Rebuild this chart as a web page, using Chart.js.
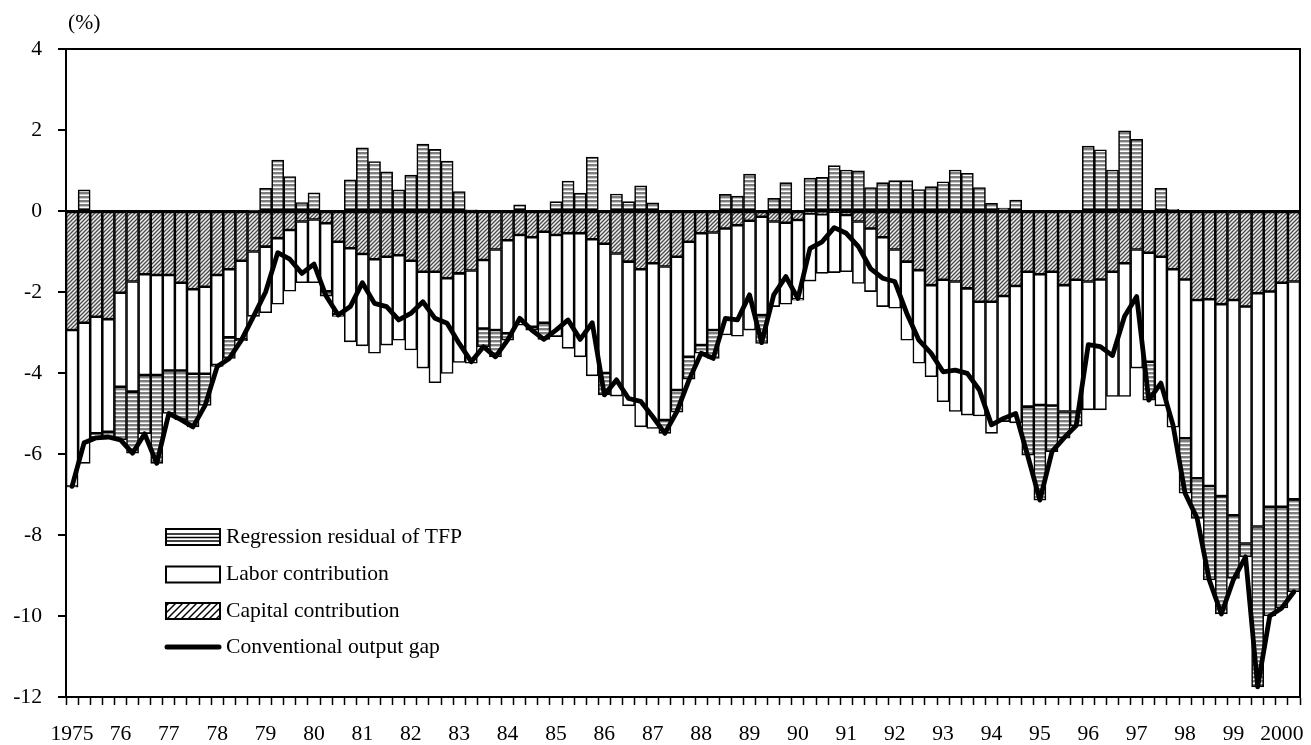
<!DOCTYPE html>
<html>
<head>
<meta charset="utf-8">
<script src="https://cdn.jsdelivr.net/npm/chart.js@4.4.1/dist/chart.umd.min.js"></script>
<style>
html,body{margin:0;padding:0;background:#fff;}
#wrap{width:1311px;height:745px;}
</style>
</head>
<body>
<div id="wrap"><canvas id="c" width="1311" height="745"></canvas></div>
<script>
// ---- categories (quarters 1975Q1 .. 2000Q2) ----
const quarters = [];
for (let y = 1975; y <= 2000; y++) for (let q = 1; q <= 4; q++) quarters.push(y + 'Q' + q);
quarters.length = 102;

// ---- tick labels ----
const yearLabels = ["1975","76","77","78","79","80","81","82","83","84","85","86","87","88","89","90","91","92","93","94","95","96","97","98","99","2000"];
const yTickValues = [4, 2, 0, -2, -4, -6, -8, -10, -12];

// ---- series (%) ----
const capital = [
  -2.94,-2.76,-2.61,-2.67, -2.02,-1.74,-1.56,-1.58,
  -1.58,-1.77,-1.93,-1.87, -1.58,-1.44,-1.23,-1.00,
  -0.88,-0.67,-0.47,-0.26, -0.21,-0.30,-0.76,-0.92,
  -1.06,-1.19,-1.13,-1.09, -1.23,-1.50,-1.50,-1.66,
  -1.54,-1.47,-1.21,-0.95, -0.72,-0.59,-0.65,-0.51,
  -0.59,-0.55,-0.55,-0.70, -0.81,-1.05,-1.25,-1.44,
  -1.29,-1.37,-1.13,-0.76, -0.55,-0.53,-0.43,-0.35,
  -0.24,-0.14,-0.26,-0.29, -0.22,-0.06,-0.08,-0.02,
  -0.10,-0.26,-0.43,-0.65, -0.95,-1.25,-1.46,-1.83,
  -1.70,-1.74,-1.91,-2.24, -2.24,-2.10,-1.85,-1.50,
  -1.56,-1.50,-1.83,-1.70, -1.74,-1.69,-1.50,-1.29,
  -0.95,-1.03,-1.13,-1.44, -1.69,-2.20,-2.18,-2.30,
  -2.20,-2.36,-2.03,-1.99, -1.77,-1.74
];
const labor = [
  -3.86,-3.47,-2.88,-2.78, -2.32,-2.72,-2.49,-2.47,
  -2.36,-2.17,-2.09,-2.15, -2.22,-1.68,-1.94,-1.60,
  -1.63,-1.63,-1.51,-1.51, -1.56,-1.68,-1.79,-2.31,
  -2.27,-2.32,-2.18,-2.10, -2.20,-2.38,-2.74,-2.35,
  -2.20,-2.29,-1.69,-1.99, -2.30,-2.23,-2.21,-2.25,
  -2.51,-2.84,-3.05,-3.37, -3.19,-3.52,-3.56,-3.89,
  -4.08,-3.79,-3.29,-2.84, -2.76,-2.41,-2.63,-2.74,
  -2.70,-2.43,-2.10,-2.01, -1.96,-1.67,-1.46,-1.50,
  -1.40,-1.53,-1.56,-1.71, -1.45,-1.94,-2.30,-2.26,
  -3.01,-3.21,-3.13,-2.82, -3.25,-3.10,-3.38,-3.33,
  -3.23,-3.30,-3.12,-3.25, -3.17,-3.22,-3.08,-3.29,
  -2.93,-2.69,-3.68,-3.90, -3.92,-4.40,-4.61,-4.74,
  -5.31,-5.85,-5.76,-5.31, -5.53,-5.38
];
const tfpResidual = [
  -0.02, 0.52,-0.11,-0.13, -1.31,-1.52,-1.45,-2.18,
  -1.06,-1.21,-1.31,-0.78, -0.04,-0.52,-0.03, 0.02,
   0.56, 1.26, 0.85, 0.21,  0.45,-0.12,-0.05, 0.77,
   1.56, 1.22, 0.97, 0.52,  0.89, 1.65, 1.52, 1.23,
   0.48, 0.03,-0.45,-0.66, -0.17, 0.15,-0.08,-0.41,
   0.23, 0.74, 0.44, 1.33, -0.54, 0.42, 0.23, 0.62,
   0.20,-0.33,-0.55,-0.55, -0.20,-0.70, 0.41, 0.37,
   0.91,-0.70, 0.31, 0.70, -0.02, 0.81, 0.83, 1.12,
   1.01, 0.99, 0.58, 0.70,  0.75, 0.75, 0.53, 0.60,
   0.72, 1.01, 0.93, 0.58,  0.19, 0.07, 0.27,-1.20,
  -2.35,-1.14,-0.66,-0.36,  1.60, 1.51, 1.01, 1.98,
   1.77,-0.95, 0.56, 0.04, -1.36,-0.99,-2.32,-2.91,
  -1.56,-0.33,-3.96,-2.70, -2.50,-2.28
];
const outputGap = [
  -6.80,-5.72,-5.60,-5.58, -5.65,-5.98,-5.50,-6.23,
  -5.00,-5.15,-5.33,-4.80, -3.84,-3.64,-3.19,-2.60,
  -2.00,-1.03,-1.19,-1.54, -1.31,-2.10,-2.57,-2.36,
  -1.77,-2.28,-2.36,-2.69, -2.53,-2.24,-2.65,-2.77,
  -3.27,-3.72,-3.35,-3.60, -3.19,-2.65,-2.94,-3.17,
  -2.94,-2.69,-3.17,-2.76, -4.54,-4.17,-4.63,-4.70,
  -5.08,-5.49,-4.95,-4.17, -3.51,-3.64,-2.65,-2.69,
  -2.07,-3.25,-2.07,-1.62, -2.16,-0.92,-0.76,-0.41,
  -0.55,-0.88,-1.42,-1.66, -1.74,-2.53,-3.19,-3.51,
  -3.97,-3.93,-4.01,-4.42, -5.28,-5.12,-5.00,-6.05,
  -7.14,-5.94,-5.60,-5.30, -3.30,-3.35,-3.57,-2.60,
  -2.11,-4.67,-4.25,-5.28, -6.97,-7.59,-9.11,-9.95,
  -9.10,-8.54,-11.75,-10.00, -9.80,-9.40
];

// ---- fill patterns ----
function tfpPattern() {
  const c = document.createElement('canvas'); c.width = 4; c.height = 4;
  const g = c.getContext('2d');
  g.fillStyle = '#ffffff'; g.fillRect(0, 0, 4, 4);
  g.fillStyle = '#7e7e7e'; g.fillRect(0, 0, 4, 2);
  g.fillStyle = '#c8c8c8'; g.fillRect(0, 2, 4, 1);
  return g.createPattern(c, 'repeat');
}
function capPattern() {
  const s = 4;
  const c = document.createElement('canvas'); c.width = s; c.height = s;
  const g = c.getContext('2d');
  g.fillStyle = '#efefef'; g.fillRect(0, 0, s, s);
  g.strokeStyle = '#4a4a4a'; g.lineWidth = 1.3;
  g.beginPath();
  g.moveTo(0, s); g.lineTo(s, 0);
  g.moveTo(-1, 1); g.lineTo(1, -1);
  g.moveTo(s - 1, s + 1); g.lineTo(s + 1, s - 1);
  g.stroke();
  return g.createPattern(c, 'repeat');
}

const SX = 1.03;
const FONT = '21px "Liberation Serif", "Times New Roman", serif';
function stretchText(ctx, txt, x, y, align) {
  ctx.save();
  ctx.translate(x, y);
  ctx.scale(SX, 1);
  ctx.textAlign = align;
  ctx.textBaseline = 'middle';
  ctx.fillText(txt, 0, 0);
  ctx.restore();
}

const legendItems = [
  {label: 'Regression residual of TFP', kind: 'tfp', y: 537},
  {label: 'Labor contribution', kind: 'labor', y: 574.5},
  {label: 'Capital contribution', kind: 'cap', y: 611},
  {label: 'Conventional output gap', kind: 'line', y: 647}
];

const textPlugin = {
  id: 'texts',
  afterDraw(chart) {
    const ctx = chart.ctx, xs = chart.scales.x, ys = chart.scales.y, ca = chart.chartArea;
    ctx.save();
    // frame
    ctx.strokeStyle = '#000'; ctx.lineWidth = 2;
    ctx.strokeRect(ca.left, ca.top, ca.right - ca.left, ca.bottom - ca.top);
    ctx.fillStyle = '#000';
    ctx.font = FONT;
    yTickValues.forEach(v => stretchText(ctx, String(v), 42, ys.getPixelForValue(v), 'right'));
    yearLabels.forEach((lab, k) => stretchText(ctx, lab, xs.getPixelForValue(k * 4), 734, 'center'));
    stretchText(ctx, '(%)', 68, 23, 'left');
    // legend
    const bx = 166, bw = 54, bh = 16;
    legendItems.forEach(it => {
      const top = it.y - bh / 2;
      if (it.kind === 'line') {
        ctx.save();
        ctx.strokeStyle = '#000'; ctx.lineWidth = 5; ctx.lineCap = 'round';
        ctx.beginPath(); ctx.moveTo(bx + 1, it.y); ctx.lineTo(bx + bw - 1, it.y); ctx.stroke();
        ctx.restore();
      } else {
        ctx.save();
        ctx.fillStyle = '#fff'; ctx.fillRect(bx, top, bw, bh);
        ctx.beginPath(); ctx.rect(bx, top, bw, bh); ctx.clip();
        ctx.strokeStyle = '#000';
        if (it.kind === 'tfp') {
          ctx.lineWidth = 1.6;
          [5, 8.5, 12].forEach(dy => { ctx.beginPath(); ctx.moveTo(bx, top + dy); ctx.lineTo(bx + bw, top + dy); ctx.stroke(); });
        } else if (it.kind === 'cap') {
          ctx.lineWidth = 1.4;
          for (let xx = bx - 20; xx < bx + bw + 20; xx += 7) {
            ctx.beginPath(); ctx.moveTo(xx, top + bh); ctx.lineTo(xx + bh, top); ctx.stroke();
          }
        }
        ctx.restore();
        ctx.strokeStyle = '#000'; ctx.lineWidth = 2;
        ctx.strokeRect(bx, top, bw, bh);
      }
      ctx.fillStyle = '#000';
      stretchText(ctx, it.label, 226, it.y, 'left');
    });
    ctx.restore();
  }
};

const barCommon = {
  borderColor: '#000', borderWidth: 1.6, borderSkipped: false,
  stack: 'contrib', order: 1, barPercentage: 1, categoryPercentage: 1
};

const ctx = document.getElementById('c').getContext('2d');
const chart = new Chart(ctx, {
  type: 'bar',
  data: {
    labels: quarters,
    datasets: [
      {type: 'line', label: 'Conventional output gap', data: outputGap, stack: 'gap', order: 0,
       borderColor: '#000', borderWidth: 4.8, pointRadius: 0, tension: 0,
       borderJoinStyle: 'round', borderCapStyle: 'round', fill: false},
      Object.assign({label: 'Capital contribution', data: capital, backgroundColor: capPattern()}, barCommon),
      Object.assign({label: 'Labor contribution', data: labor, backgroundColor: '#ffffff'}, barCommon),
      Object.assign({label: 'Regression residual of TFP', data: tfpResidual, backgroundColor: tfpPattern()}, barCommon)
    ]
  },
  options: {
    responsive: false, animation: false, devicePixelRatio: 1,
    layout: {padding: {left: 58, right: 11, top: 49, bottom: 40}},
    plugins: {legend: {display: false}, tooltip: {enabled: false}},
    scales: {
      x: {
        stacked: true, offset: true,
        ticks: {display: false, autoSkip: false},
        grid: {offset: true, drawOnChartArea: false, tickLength: 8, tickColor: '#000', tickWidth: 1.5},
        border: {display: true, color: '#000', width: 2}
      },
      y: {
        stacked: true, min: -12, max: 4,
        ticks: {display: false, stepSize: 2},
        grid: {
          color: c => (c.tick && c.tick.value === 0) ? '#000' : 'rgba(0,0,0,0)',
          lineWidth: 2, tickLength: 8, tickColor: '#000', tickWidth: 2
        },
        border: {display: true, color: '#000', width: 2}
      }
    }
  },
  plugins: [textPlugin]
});

// align the plot area with the reference (66,49)-(1300,697)
(function fit() {
  const want = {left: 66, top: 49, right: 1300, bottom: 697};
  const ca = chart.chartArea, p = chart.options.layout.padding;
  p.left += want.left - ca.left;
  p.top += want.top - ca.top;
  p.right += ca.right - want.right;
  p.bottom += ca.bottom - want.bottom;
  chart.update();
})();
</script>
</body>
</html>
